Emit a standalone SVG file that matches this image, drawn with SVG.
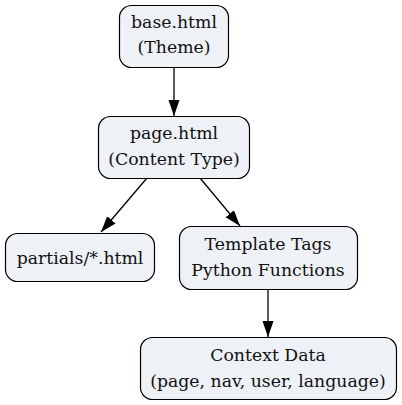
<svg xmlns="http://www.w3.org/2000/svg" width="402" height="405" viewBox="0 0 402 405">
<style>
.n rect{fill:#eef2f6;stroke:#000;stroke-width:1.2}
.n text{font-family:"DejaVu Serif","Liberation Serif",serif;font-size:17.3px;fill:#111;text-anchor:middle}
.e path{stroke:#000;stroke-width:1.3;fill:none}
</style>
<defs>
<marker id="ah" viewBox="0 0 16 12" refX="16" refY="6" markerWidth="16" markerHeight="12" markerUnits="userSpaceOnUse" orient="auto"><path d="M0,0.5 L16,6 L0,11.5 z" fill="#000"/></marker>
</defs>
<rect width="402" height="405" fill="#fff"/>
<g id="edges" class="e">
<path d="M174,67 L174,116" marker-end="url(#ah)"/>
<path d="M147,178 L101,232" marker-end="url(#ah)"/>
<path d="M200,178 L240,226" marker-end="url(#ah)"/>
<path d="M268,289 L268,337" marker-end="url(#ah)"/>
</g>
<g id="base" class="n"><rect x="119.5" y="5.5" width="109" height="62" rx="12"/><text x="174" y="27.5">base.html</text><text x="174" y="53">(Theme)</text></g>
<g id="page" class="n"><rect x="98.5" y="116.5" width="151" height="62" rx="12"/><text x="174" y="139">page.html</text><text x="174" y="164.5">(Content Type)</text></g>
<g id="partials" class="n"><rect x="5.5" y="233.5" width="149" height="48" rx="12"/><text x="80" y="263.5">partials/*.html</text></g>
<g id="tags" class="n"><rect x="179.5" y="226.5" width="178" height="63" rx="12"/><text x="268" y="249.5">Template Tags</text><text x="268" y="276">Python Functions</text></g>
<g id="ctx" class="n"><rect x="140.5" y="337.5" width="256" height="62" rx="12"/><text x="268" y="361">Context Data</text><text x="268" y="386.5">(page, nav, user, language)</text></g>
</svg>
